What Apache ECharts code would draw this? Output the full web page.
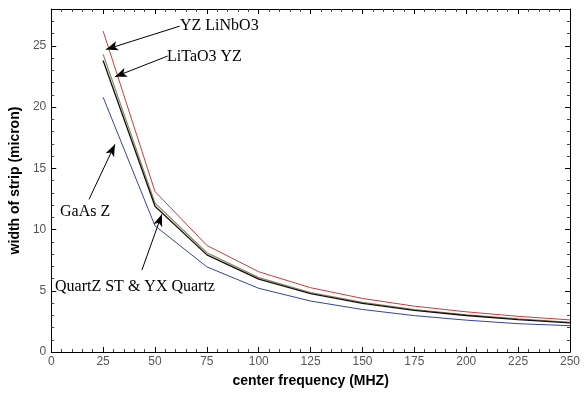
<!DOCTYPE html>
<html>
<head>
<meta charset="utf-8">
<script src="https://cdn.jsdelivr.net/npm/echarts@6/dist/echarts.min.js"></script>
<style>html,body{margin:0;padding:0;background:#fff}#c{width:584px;height:393px}</style>
</head>
<body>
<div id="c"></div>
<script>
var frequencies = [25, 50, 75, 100, 125, 150, 175, 200, 225, 250];
var yzLiNbO3 = [26.2, 13.1, 8.7, 6.55, 5.25, 4.37, 3.74, 3.28, 2.91, 2.62];
var liTaO3YZ = [24.3, 12.15, 8.1, 6.07, 4.86, 4.05, 3.47, 3.04, 2.7, 2.43];
var quartzST = [23.8, 11.9, 7.93, 5.95, 4.76, 3.97, 3.4, 2.98, 2.64, 2.38];
var gaAsZ = [20.8, 10.3, 6.95, 5.2, 4.16, 3.47, 2.97, 2.6, 2.31, 2.15];
var xTicks = [0, 25, 50, 75, 100, 125, 150, 175, 200, 225, 250];
var yTicks = [0, 5, 10, 15, 20, 25];

// annotation arrows in data coordinates: [from, to]
var arrows = [
  [[61.9, 26.6], [26.4, 24.7]],
  [[56.1, 24.16], [30.7, 22.47]],
  [[18.2, 12.46], [30.7, 16.95]],
  [[43.7, 6.69], [53.3, 11.24]]
];

function pairs(ys) { return frequencies.map(function (x, i) { return [x, ys[i]]; }); }

var chart = echarts.init(document.getElementById('c'));
var axisCommon = {
  axisLine: { show: true, onZero: false, lineStyle: { color: '#000', width: 1 } },
  axisTick: { show: true, inside: true, length: 5, lineStyle: { color: '#000' } },
  minorTick: { show: true, splitNumber: 5, length: 3, lineStyle: { color: '#444' } },
  splitLine: { show: false },
  minorSplitLine: { show: false }
};
var labelStyle = { color: '#555', fontFamily: 'Liberation Sans', fontSize: 12 };

chart.setOption({
  animation: false,
  backgroundColor: '#fff',
  grid: { left: 49, right: 14, top: 9, bottom: 35 },
  xAxis: [
    Object.assign({}, axisCommon, {
      type: 'value', min: 0, max: 250, interval: 25, position: 'bottom',
      name: 'center frequency (MHZ)', nameLocation: 'middle', nameGap: 22,
      nameTextStyle: { fontFamily: 'Liberation Sans', fontWeight: 'bold', fontSize: 14, color: '#000' },
      axisLabel: Object.assign({ margin: 4, formatter: function (v) { return xTicks.indexOf(v) >= 0 ? String(v) : ''; } }, labelStyle)
    }),
    Object.assign({}, axisCommon, {
      type: 'value', min: 0, max: 250, interval: 25, position: 'top',
      axisLabel: { show: false }
    })
  ],
  yAxis: [
    Object.assign({}, axisCommon, {
      type: 'value', min: 0, max: 28, interval: 5, position: 'left',
      name: 'width of strip (micron)', nameLocation: 'middle', nameGap: 23, nameRotate: 90,
      nameTextStyle: { fontFamily: 'Liberation Sans', fontWeight: 'bold', fontSize: 14, color: '#000' },
      axisLabel: Object.assign({ margin: 5, formatter: function (v) { return yTicks.indexOf(v) >= 0 ? String(v) : ''; } }, labelStyle)
    }),
    Object.assign({}, axisCommon, {
      type: 'value', min: 0, max: 28, interval: 5, position: 'right',
      axisLabel: { show: false }
    })
  ],
  series: [
    { type: 'line', name: 'YZ LiNbO3', data: pairs(yzLiNbO3), symbol: 'none', lineStyle: { color: '#d03a3a', width: 1 } },
    { type: 'line', name: 'LiTaO3 YZ', data: pairs(liTaO3YZ), symbol: 'none', lineStyle: { color: '#8f8060', width: 1.2 } },
    { type: 'line', name: 'QuartZ ST & YX Quartz', data: pairs(quartzST), symbol: 'none', lineStyle: { color: '#111', width: 1.3 } },
    { type: 'line', name: 'GaAs Z', data: pairs(gaAsZ), symbol: 'none', lineStyle: { color: '#3444a0', width: 1 },
      markLine: {
        silent: true, symbol: ['none', 'arrow'], symbolSize: [7, 12],
        label: { show: false },
        lineStyle: { color: '#000', width: 1, type: 'solid' },
        data: arrows.map(function (a) { return [{ coord: a[0] }, { coord: a[1] }]; })
      }
    }
  ],
  graphic: [
    { type: 'text', left: 180, top: 18, style: { text: 'YZ LiNbO3', font: '16px "Liberation Serif"', fill: '#000' } },
    { type: 'text', left: 167, top: 49, style: { text: 'LiTaO3 YZ', font: '16px "Liberation Serif"', fill: '#000' } },
    { type: 'text', left: 60, top: 204, style: { text: 'GaAs Z', font: '16px "Liberation Serif"', fill: '#000' } },
    { type: 'text', left: 55, top: 279, style: { text: 'QuartZ ST & YX Quartz', font: '16px "Liberation Serif"', fill: '#000' } }
  ]
});
</script>
</body>
</html>
